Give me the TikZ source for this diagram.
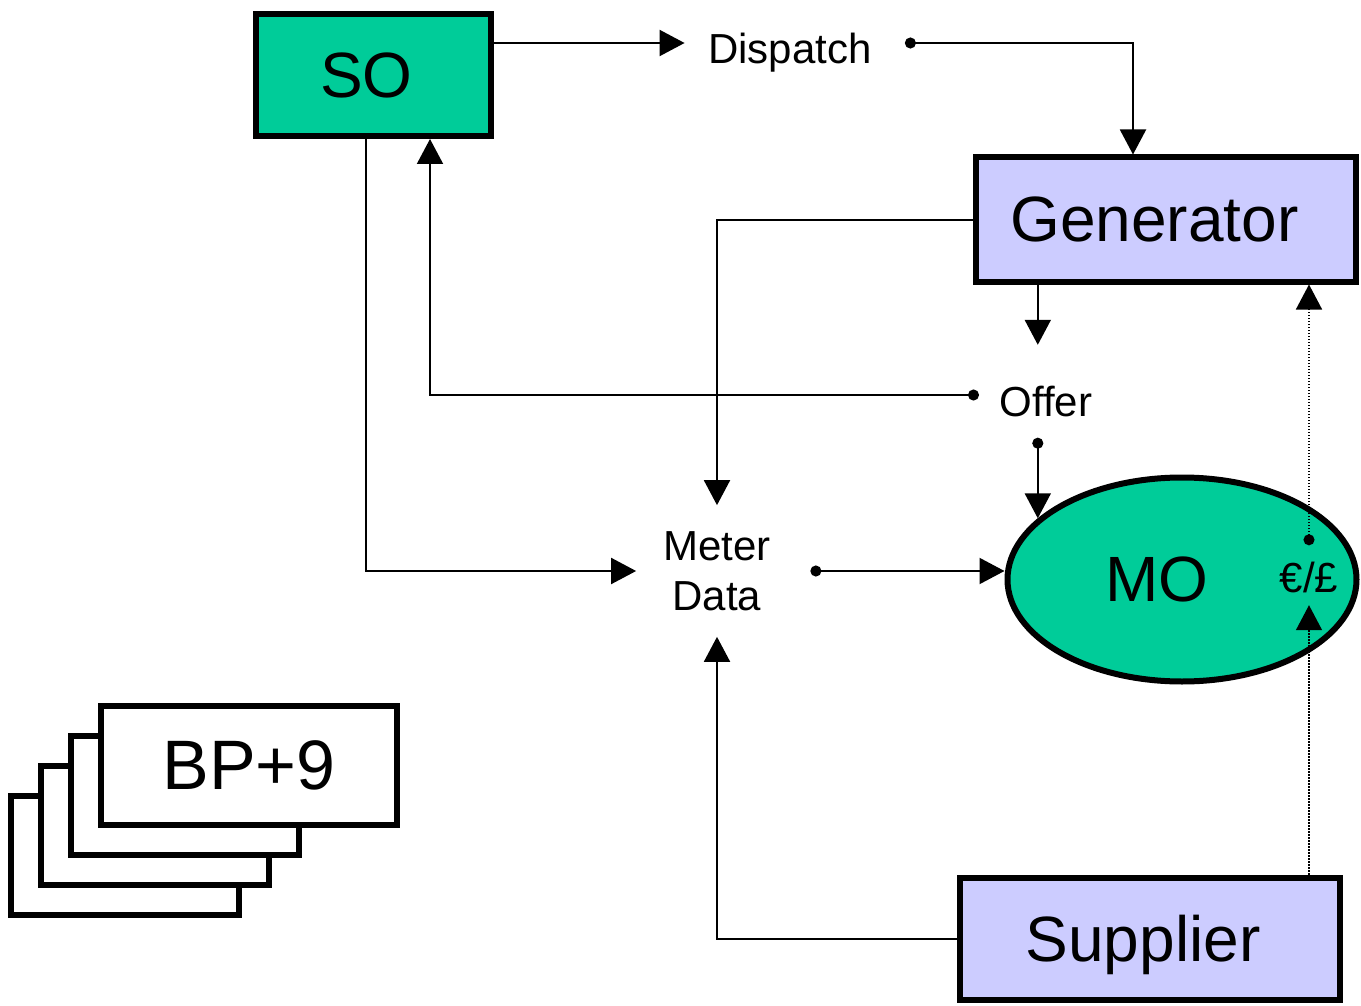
\documentclass[tikz,border=0pt]{standalone}
\usepackage{fontspec}
\setmainfont{Liberation Sans}
\usetikzlibrary{arrows.meta,shapes.geometric}
\newcommand{\bord}{6pt}
\definecolor{socolor}{RGB}{0,204,153}
\definecolor{gencolor}{RGB}{204,204,255}

\begin{document}
\begin{tikzpicture}[x=1pt, y=-1pt,
    box/.style={draw, rectangle, line width=\bord, inner sep=0pt, text depth=0pt, font=\fontsize{64}{76}\selectfont},
    card/.style={draw, rectangle, fill=white, anchor=north west, line width=\bord, minimum height=119pt, inner sep=0pt},
    lbl/.style={inner sep=0pt, text height=42pt, text depth=0pt, font=\fontsize{42}{50}\selectfont},
    flow/.style={draw, line width=2pt, -{Triangle[length=25pt,width=26pt]}},
    dotflow/.style={flow, {Circle[length=11pt]}-{Triangle[length=25pt,width=26pt]}},
    fine/.style={line width=1.5pt, dash pattern=on 1.5pt off 1.5pt}]
    \useasboundingbox (0,0) rectangle (1361,1006);

    % Boxes
    \node[box, fill=socolor, minimum width=235pt, minimum height=122pt] (so) at (373.5,75) {SO\hspace*{14pt}};
    \node[box, fill=gencolor, minimum width=380pt, minimum height=124pt] (gen) at (1165.5,219.5) {Generator\hspace*{22pt}};
    \node[box, fill=gencolor, minimum width=380pt, minimum height=122pt] (sup) at (1149.5,938.5) {Supplier\hspace*{13pt}};
    \node[box, ellipse, fill=socolor, minimum width=349pt, minimum height=204pt] (mo) at (1182,579.5) {MO\hspace*{50pt}};

    % Stack of cards
    \foreach \i in {3,2,1}
        \node[card, minimum width=228pt] (bp-\i) at (98-30*\i,703+30*\i) {};
    \node[card, minimum width=296pt, font=\fontsize{70}{84}\selectfont] (bp) at (98,703) {BP+9};

    % Labels
    \node[lbl] (dispatch) at (790,43) {Dispatch};
    \node[lbl] (offer) at (1046,395) {Offer};
    \node[inner sep=0pt, align=center, font=\fontsize{42}{50}\selectfont] (meter) at (717,571) {Meter\\Data};
    \node[lbl] (money) at (1309,571) {€/£};

    % Connectors
    \draw[flow, shorten >=23.5pt] (so.east |- dispatch.west) -- (dispatch.west);
    \draw[dotflow, shorten <=33pt] (dispatch.east) -| ([xshift=-32.5pt]gen.north);
    \draw[flow, shorten >=26pt] (gen.west) -| (meter.north);
    \draw[flow] (mo.157 |- gen.south) -- ([yshift=29pt]mo.157 |- offer.north);
    \draw[dotflow, shorten <=20.5pt] (offer.west) -| ([xshift=56.5pt]so.south);
    \draw[dotflow, shorten <=21.5pt] (mo.157 |- offer.south) -- (mo.157);
    \draw[flow, shorten >=27pt] ([xshift=-7.5pt]so.south) |- (meter.west);
    \draw[dotflow, shorten <=39.5pt] (meter.east) -- (meter.east -| mo.west);
    \draw[flow, shorten >=26pt] (sup.west) -| (meter.south);

    % Payment
    \draw[flow, fine, shorten >=13pt] (sup.north -| money.south) -- (money.south);
    \draw[dotflow, fine, shorten <=4.5pt] (money.north) -- (money.north |- gen.south);

\end{tikzpicture}
\end{document}
